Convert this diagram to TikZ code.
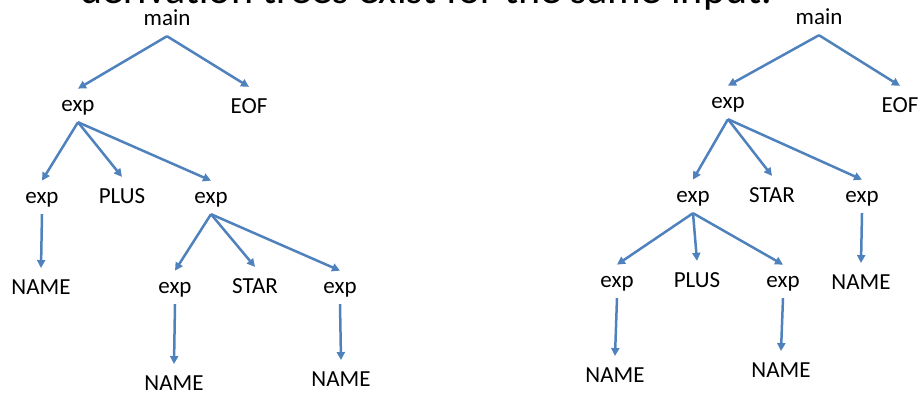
\documentclass[tikz,border=0pt]{standalone}
\usepackage{fontspec}
\setmainfont{Carlito}
\usetikzlibrary{positioning,arrows.meta}

\begin{document}
\begin{tikzpicture}[
        x=1pt, y=-1pt,
        font=\fontsize{23}{28}\selectfont,
        >={Triangle[length=8pt, width=8pt]},
        sym/.style={anchor=base, inner xsep=0pt, inner ysep=11pt, text depth=0pt},
        arrow/.style={->, line width=2.5pt, draw=arrowblue},
    ]
    \definecolor{arrowblue}{RGB}{79,129,189}
    \useasboundingbox (0,0) rectangle (921,392);
    \clip (0,0) rectangle (921,392);

    % 标题(被截断)
    \node[anchor=base west, inner sep=0pt, font=\fontsize{42}{50}\selectfont] (title) at (80,3)
        {derivation trees exist for the same input.};

    % 左树
    \node[sym] (m1)    at (167,25)  {main};
    \node[sym] (e1)    at (78,111)  {exp};
    \node[sym] (eof1)  at (249,113) {EOF};
    \node[sym] (e2)    at (42,203)  {exp};
    \node[sym] (plus1) at (122,203) {PLUS};
    \node[sym] (e3)    at (211,203) {exp};
    \node[sym] (n1)    at (41,294)  {NAME};
    \node[sym] (e4)    at (175,293) {exp};
    \node[sym] (star1) at (255,293) {STAR};
    \node[sym] (e5)    at (340,293) {exp};
    \node[sym] (n2)    at (174,390) {NAME};
    \node[sym] (n3)    at (341,386) {NAME};

    % 右树
    \node[sym] (m2)    at (819,24)  {main};
    \node[sym] (f1)    at (728,108) {exp};
    \node[sym] (eof2)  at (900,112) {EOF};
    \node[sym] (f2)    at (693,202) {exp};
    \node[sym] (star2) at (772,202) {STAR};
    \node[sym] (f3)    at (862,202) {exp};
    \node[sym] (n4)    at (861,289) {NAME};
    \node[sym] (f4)    at (617,287) {exp};
    \node[sym] (plus2) at (697,287) {PLUS};
    \node[sym] (f5)    at (783,287) {exp};
    \node[sym] (n5)    at (615,382) {NAME};
    \node[sym] (n6)    at (781,377) {NAME};

    % 连接
    \foreach \a/\b in {m1/e1, m1/eof1, e1/e2, e1/plus1, e1/e3, e2/n1,
                       e3/e4, e3/star1, e3/e5, e4/n2, e5/n3,
                       m2/f1, m2/eof2, f1/f2, f1/star2, f1/f3, f3/n4,
                       f2/f4, f2/plus2, f2/f5, f4/n5, f5/n6} {
            \draw[arrow] (\a.south) -- (\b.north);
        }

\end{tikzpicture}
\end{document}
